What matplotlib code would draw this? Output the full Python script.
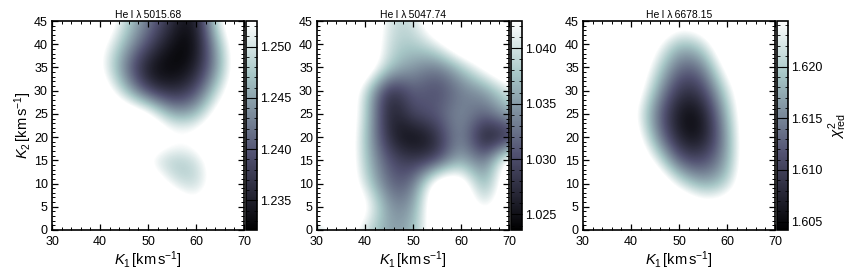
import numpy as np
import matplotlib
matplotlib.use("Agg")
import matplotlib.pyplot as plt
from matplotlib.ticker import MultipleLocator

plt.rcParams['font.family'] = ['Liberation Sans', 'DejaVu Sans']
plt.rcParams['mathtext.fontset'] = 'custom'
plt.rcParams['mathtext.rm'] = 'Liberation Sans'
plt.rcParams['mathtext.it'] = 'Liberation Sans:italic'

# grid nodes of the chi2 maps (km/s)
k1_grid = [30, 35, 40, 45, 50, 55, 60, 65, 70]
k2_grid = [0, 5, 10, 15, 20, 25, 30, 35, 40, 45]

# reduced chi2, rows = K2 from 0 to 45, columns = K1 from 30 to 70
chi2_5015 = [
    [1.2596, 1.2596, 1.2596, 1.2596, 1.2596, 1.2596, 1.2596, 1.2596, 1.2596],
    [1.2596, 1.2596, 1.2596, 1.2596, 1.2596, 1.2596, 1.2535, 1.2596, 1.2596],
    [1.2596, 1.2596, 1.2596, 1.2596, 1.2596, 1.2505, 1.2474, 1.2566, 1.2596],
    [1.2596, 1.2596, 1.2596, 1.2596, 1.2505, 1.2464, 1.2484, 1.2576, 1.2596],
    [1.2596, 1.2596, 1.2596, 1.2596, 1.2596, 1.2556, 1.2556, 1.2596, 1.2596],
    [1.2596, 1.2596, 1.2596, 1.2586, 1.2556, 1.2443, 1.2454, 1.2566, 1.2596],
    [1.2596, 1.2596, 1.2576, 1.2474, 1.2372, 1.2352, 1.2382, 1.2505, 1.2596],
    [1.2596, 1.2596, 1.2535, 1.2423, 1.2331, 1.2321, 1.2341, 1.2454, 1.2596],
    [1.2596, 1.2596, 1.2545, 1.2464, 1.2392, 1.2331, 1.2321, 1.2474, 1.2596],
    [1.2596, 1.2596, 1.2596, 1.2494, 1.2423, 1.2362, 1.2321, 1.2535, 1.2596],
]
chi2_5047 = [
    [1.0368, 1.0462, 1.0396, 1.0349, 1.0359, 1.0472, 1.0490, 1.0490, 1.0490],
    [1.0490, 1.0490, 1.0453, 1.0340, 1.0340, 1.0490, 1.0490, 1.0387, 1.0490],
    [1.0490, 1.0490, 1.0396, 1.0312, 1.0312, 1.0481, 1.0481, 1.0331, 1.0490],
    [1.0490, 1.0490, 1.0378, 1.0302, 1.0284, 1.0284, 1.0368, 1.0312, 1.0472],
    [1.0490, 1.0490, 1.0378, 1.0265, 1.0236, 1.0265, 1.0359, 1.0236, 1.0265],
    [1.0490, 1.0490, 1.0396, 1.0246, 1.0302, 1.0312, 1.0349, 1.0312, 1.0368],
    [1.0490, 1.0490, 1.0396, 1.0255, 1.0321, 1.0293, 1.0331, 1.0340, 1.0406],
    [1.0490, 1.0490, 1.0481, 1.0378, 1.0349, 1.0321, 1.0368, 1.0443, 1.0490],
    [1.0490, 1.0490, 1.0490, 1.0387, 1.0378, 1.0406, 1.0490, 1.0490, 1.0490],
    [1.0490, 1.0490, 1.0490, 1.0396, 1.0387, 1.0490, 1.0490, 1.0490, 1.0490],
]
chi2_6678 = [
    [1.6315, 1.6315, 1.6315, 1.6315, 1.6315, 1.6315, 1.6315, 1.6315, 1.6315],
    [1.6315, 1.6315, 1.6315, 1.6315, 1.6315, 1.6274, 1.6284, 1.6315, 1.6315],
    [1.6315, 1.6315, 1.6315, 1.6315, 1.6224, 1.6163, 1.6194, 1.6315, 1.6315],
    [1.6315, 1.6315, 1.6315, 1.6244, 1.6113, 1.6103, 1.6163, 1.6315, 1.6315],
    [1.6315, 1.6315, 1.6305, 1.6163, 1.6062, 1.6052, 1.6163, 1.6315, 1.6315],
    [1.6315, 1.6315, 1.6274, 1.6143, 1.6052, 1.6052, 1.6183, 1.6315, 1.6315],
    [1.6315, 1.6315, 1.6305, 1.6183, 1.6082, 1.6093, 1.6214, 1.6315, 1.6315],
    [1.6315, 1.6315, 1.6315, 1.6224, 1.6123, 1.6133, 1.6274, 1.6315, 1.6315],
    [1.6315, 1.6315, 1.6315, 1.6264, 1.6173, 1.6204, 1.6315, 1.6315, 1.6315],
    [1.6315, 1.6315, 1.6315, 1.6315, 1.6274, 1.6294, 1.6315, 1.6315, 1.6315],
]

titles = ['He\u2009I \u03bb\u20095015.68', 'He\u2009I \u03bb\u20095047.74', 'He\u2009I \u03bb\u20096678.15']
maps = [chi2_5015, chi2_5047, chi2_6678]
vmins = [1.2321, 1.0236, 1.6042]
vmaxs = [1.2525, 1.04245, 1.6244]
cbar_ticks = [[1.235, 1.240, 1.245, 1.250],
              [1.025, 1.030, 1.035, 1.040],
              [1.605, 1.610, 1.615, 1.620]]

W, H = 859, 279
fig = plt.figure(figsize=(W / 100, H / 100), dpi=100)

lefts = [52, 317, 583]
ax_w, ax_top, ax_bot = 192, 21, 230
cb_w = 11

dk1 = k1_grid[1] - k1_grid[0]
dk2 = k2_grid[1] - k2_grid[0]
extent = [k1_grid[0] - dk1 / 2, k1_grid[-1] + dk1 / 2,
          k2_grid[0] - dk2 / 2, k2_grid[-1] + dk2 / 2]

for i in range(3):
    ax = fig.add_axes([lefts[i] / W, (H - ax_bot) / H, ax_w / W, (ax_bot - ax_top) / H])
    im = ax.imshow(np.array(maps[i]), origin='lower', extent=extent, aspect='auto',
                   cmap='bone', vmin=vmins[i], vmax=vmaxs[i], interpolation='bicubic')
    ax.set_xlim(30, 70)
    ax.set_ylim(0, 45)
    ax.xaxis.set_major_locator(MultipleLocator(10))
    ax.xaxis.set_minor_locator(MultipleLocator(2))
    ax.yaxis.set_major_locator(MultipleLocator(5))
    ax.yaxis.set_minor_locator(MultipleLocator(1))
    ax.tick_params(which='both', direction='in', top=True, right=True, labelsize=9)
    ax.tick_params(axis='x', pad=4)
    ax.tick_params(axis='y', pad=3)
    ax.tick_params(which='major', length=4, width=0.9)
    ax.tick_params(which='minor', length=2, width=0.7)
    for s in ax.spines.values():
        s.set_linewidth(1.2)
    ax.set_title(titles[i], fontsize=7.5, pad=2)
    ax.set_xlabel(r'$K_1\,[\mathrm{km\,s^{-1}}]$', fontsize=10.5, labelpad=1)
    if i == 0:
        ax.set_ylabel(r'$K_2\,[\mathrm{km\,s^{-1}}]$', fontsize=10.5, labelpad=0)

    cax = fig.add_axes([(lefts[i] + ax_w + 2) / W, (H - ax_bot) / H,
                        cb_w / W, (ax_bot - ax_top) / H])
    cb = fig.colorbar(im, cax=cax)
    cb.set_ticks(cbar_ticks[i])
    cb.ax.yaxis.set_minor_locator(MultipleLocator(0.001))
    cb.ax.tick_params(which='both', direction='in', left=True, right=True, labelsize=9, pad=2)
    cb.ax.tick_params(which='major', length=4, width=0.8)
    cb.ax.tick_params(which='minor', length=2, width=0.6)
    cb.outline.set_linewidth(1.2)
    if i == 2:
        cb.set_label(r'$\chi^2_{\mathrm{red}}$', fontsize=11, labelpad=3)

fig.savefig('out.png', dpi=100)
